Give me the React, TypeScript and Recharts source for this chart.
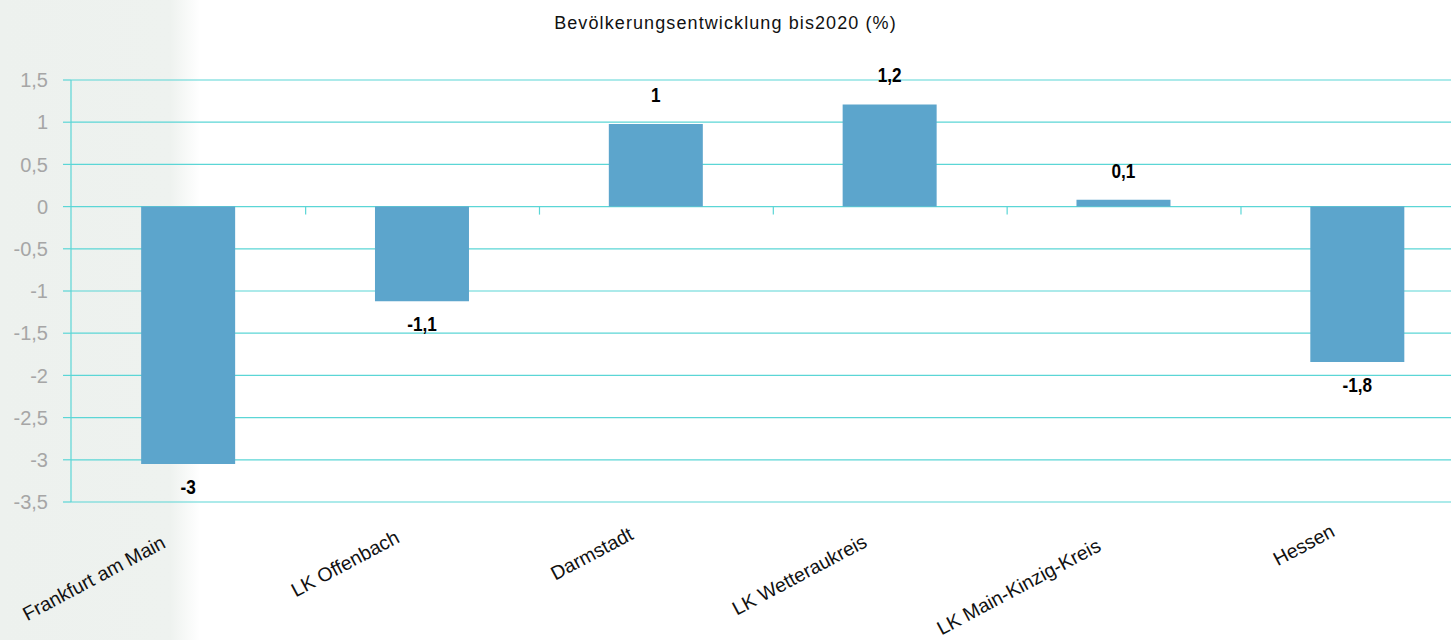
import { BarChart, Bar, XAxis, YAxis, CartesianGrid, LabelList, Rectangle } from 'recharts';

const categories = [
  'Frankfurt am Main',
  'LK Offenbach',
  'Darmstadt',
  'LK Wetteraukreis',
  'LK Main-Kinzig-Kreis',
  'Hessen',
];
const values = [-3.05, -1.12, 0.98, 1.21, 0.08, -1.84];
const valueLabels = ['-3', '-1,1', '1', '1,2', '0,1', '-1,8'];
const yTicks = [1.5, 1, 0.5, 0, -0.5, -1, -1.5, -2, -2.5, -3, -3.5];

const data = categories.map((name, i) => ({ name, value: values[i], label: valueLabels[i] }));

const TEAL = '#5bd6d6';
const BAR = '#5ca5cc';
const SANS = '"Liberation Sans", Arial, sans-serif';
const GAP = 0.3; // barCategoryGap

// Excel pushes longer rotated labels a little lower
function CategoryTick({ x, y, payload }: any) {
  const n = String(payload.value).length;
  return (
    <g transform={`translate(${x - 21},${y + 25 + n * 1.05})`}>
      <text textAnchor="end" transform="rotate(-28)" fill="#111" fontSize={19.5} fontFamily={SANS}>
        {payload.value}
      </text>
    </g>
  );
}

// bar plus the small category-boundary tick on the zero line (Excel style axis)
function BarWithTick(props: any) {
  const { x, y, width, height, index } = props;
  const top = Math.min(y, y + height);
  const bottom = Math.max(y, y + height);
  const zeroY = values[index] >= 0 ? bottom : top;
  const band = width / (1 - 2 * GAP);
  const bx = x + width / 2 + band / 2;
  return (
    <g>
      <Rectangle {...props} />
      {index < categories.length - 1 && (
        <line x1={bx} x2={bx} y1={zeroY} y2={zeroY + 8} stroke={TEAL} strokeWidth={1.2} />
      )}
    </g>
  );
}

function ValueLabel(props: any) {
  const { x, y, width, height, value, index } = props;
  const top = Math.min(y, y + height);
  const bottom = Math.max(y, y + height);
  const positive = values[index] >= 0;
  const ty = positive ? top - 22 : bottom + 30;
  return (
    <text
      transform={`translate(${x + width / 2},${ty}) scale(0.86,1)`}
      textAnchor="middle"
      fill="#000"
      fontSize={20}
      fontWeight={700}
      fontFamily={SANS}
    >
      {value}
    </text>
  );
}

export default function App() {
  return (
    <div style={{ position: 'fixed', left: 0, top: 0, width: 1451, height: 640, overflow: 'hidden', background: '#fff' }}>
      {/* faint photo background on the left */}
      <div
        style={{
          position: 'absolute', left: 0, top: 0, width: 200, height: 640,
          background: 'linear-gradient(90deg, #edf1ee 0%, #eef2ef 85%, rgba(255,255,255,0) 100%)',
        }}
      />
      <div
        style={{
          position: 'absolute', left: 0, top: 13, width: 1451, textAlign: 'center',
          fontFamily: SANS, fontSize: 18, color: '#111', letterSpacing: 1.1,
        }}
      >
        Bevölkerungsentwicklung bis2020 (%)
      </div>
      <div style={{ position: 'absolute', left: 0, top: 0 }}>
        <BarChart width={1480} height={640} data={data} margin={{ top: 80, right: 6, bottom: 0, left: 0 }} barCategoryGap={`${GAP * 100}%`}>
          <CartesianGrid vertical={false} stroke={TEAL} strokeWidth={1.2} />
          <XAxis
            dataKey="name"
            height={138}
            axisLine={false}
            tickLine={false}
            tickSize={0}
            interval={0}
            tick={<CategoryTick />}
          />
          <YAxis
            domain={[-3.5, 1.5]}
            ticks={yTicks}
            width={71}
            tickSize={8}
            tickMargin={15}
            axisLine={{ stroke: TEAL, strokeWidth: 1.2 }}
            tickLine={{ stroke: TEAL, strokeWidth: 1.2 }}
            tick={{ fill: '#a6a6a6', fontSize: 20, fontFamily: SANS }}
            tickFormatter={(v: number) => String(v).replace('.', ',')}
          />
          <Bar dataKey="value" fill={BAR} isAnimationActive={false} shape={<BarWithTick />}>
            <LabelList dataKey="label" content={<ValueLabel />} />
          </Bar>
        </BarChart>
      </div>
    </div>
  );
}
